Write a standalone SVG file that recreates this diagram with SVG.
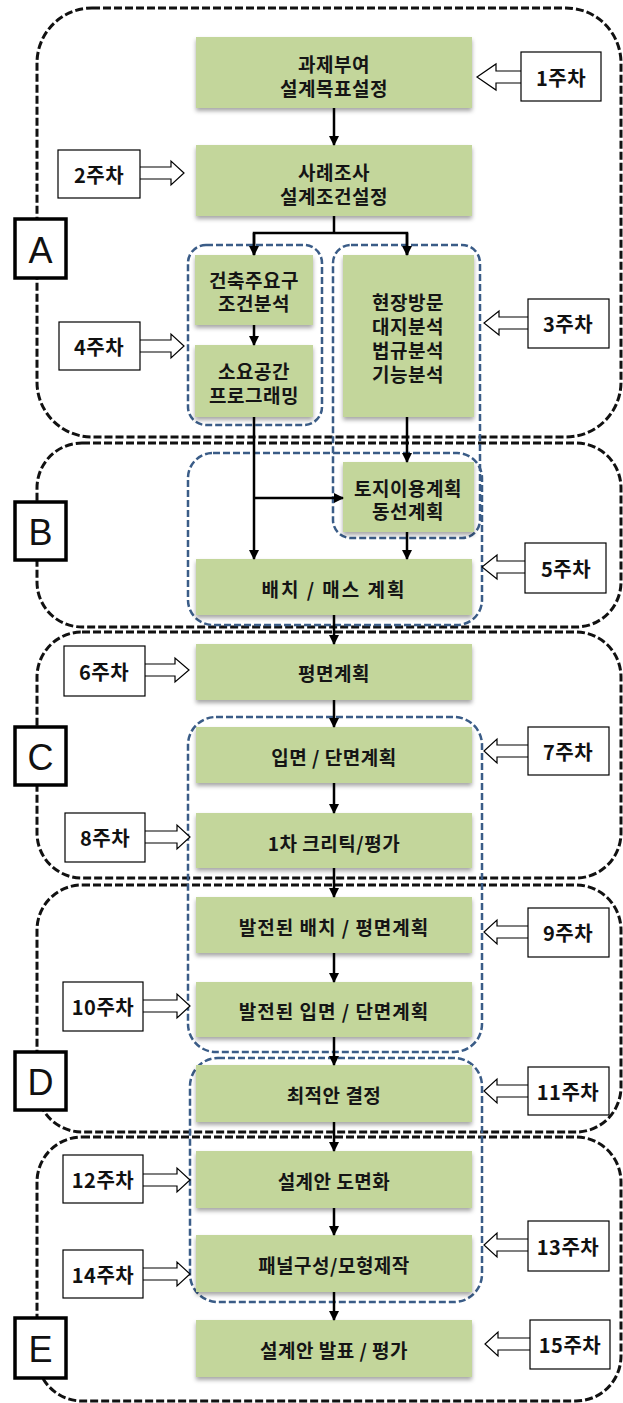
<svg xmlns="http://www.w3.org/2000/svg" width="623" height="1403" viewBox="0 0 623 1403">
<style>
.sec{fill:none;stroke:#111;stroke-width:3;stroke-dasharray:8 3}
.grp{fill:none;stroke:#3a5c87;stroke-width:2.5;stroke-dasharray:7 3}
.lbl{fill:#fff;stroke:#000;stroke-width:3.5}
.lt{font-family:"Liberation Sans",Arial,sans-serif;font-size:36px;fill:#111;text-anchor:middle;dominant-baseline:central}
.box{fill:#c3d69b;filter:url(#sh)}
.bt{font-family:"Noto Sans CJK KR","Noto Sans",sans-serif;font-weight:bold;font-size:19px;fill:#151515;text-anchor:middle;dominant-baseline:central;letter-spacing:0.5px}
.wk{fill:#fff;stroke:#000;stroke-width:1.2}
.wt{font-family:"Noto Sans CJK KR","Noto Sans",sans-serif;font-weight:bold;font-size:20px;fill:#111;text-anchor:middle;dominant-baseline:central;letter-spacing:0.5px}
.ba{fill:#fff;stroke:#000;stroke-width:1.2}
.cn{fill:none;stroke:#000;stroke-width:2.5}
</style>
<defs>
<filter id="sh" x="-5%" y="-10%" width="110%" height="140%"><feDropShadow dx="0" dy="3" stdDeviation="2" flood-color="#000" flood-opacity="0.35"/></filter>
<marker id="ah" markerWidth="10" markerHeight="10" refX="9" refY="5" orient="auto" markerUnits="userSpaceOnUse"><path d="M0,0 L10,5 L0,10 Z" fill="#000"/></marker>
</defs>

<g id="sections">
<rect class="sec" x="37" y="8" width="584" height="429" rx="55"/>
<rect class="sec" x="37" y="443" width="584" height="184" rx="45"/>
<rect class="sec" x="37" y="632" width="584" height="246" rx="45"/>
<rect class="sec" x="37" y="885" width="584" height="247" rx="45"/>
<rect class="sec" x="37" y="1137" width="584" height="264" rx="45"/>
</g>

<g id="groups">
<rect class="grp" x="188" y="245" width="134" height="180" rx="18"/>
<rect class="grp" x="333" y="245" width="147" height="293" rx="18"/>
<rect class="grp" x="188" y="453" width="294" height="172" rx="25"/>
<rect class="grp" x="188" y="717" width="294" height="335" rx="28"/>
<rect class="grp" x="190" y="1058" width="292" height="244" rx="28"/>
</g>

<g id="label-A"><rect class="lbl" x="15" y="219" width="51" height="59"/><text class="lt" x="40.5" y="250">A</text></g>
<g id="label-B"><rect class="lbl" x="15" y="502" width="51" height="58"/><text class="lt" x="40.5" y="532">B</text></g>
<g id="label-C"><rect class="lbl" x="15" y="727" width="51" height="58"/><text class="lt" x="40.5" y="757">C</text></g>
<g id="label-D"><rect class="lbl" x="15" y="1052" width="51" height="58"/><text class="lt" x="40.5" y="1082">D</text></g>
<g id="label-E"><rect class="lbl" x="15" y="1318" width="51" height="60"/><text class="lt" x="40.5" y="1349">E</text></g>

<g id="n1"><rect class="box" x="196" y="37" width="276" height="71"/><text class="bt"><tspan x="334" y="63">과제부여</tspan><tspan x="334" y="87">설계목표설정</tspan></text></g>
<g id="n2"><rect class="box" x="196" y="145" width="276" height="71"/><text class="bt"><tspan x="334" y="171">사례조사</tspan><tspan x="334" y="195">설계조건설정</tspan></text></g>
<g id="n3"><rect class="box" x="195" y="255" width="118" height="70"/><text class="bt"><tspan x="254" y="279">건축주요구</tspan><tspan x="254" y="302">조건분석</tspan></text></g>
<g id="n4"><rect class="box" x="195" y="345" width="118" height="72"/><text class="bt"><tspan x="254" y="370">소요공간</tspan><tspan x="254" y="394">프로그래밍</tspan></text></g>
<g id="n5"><rect class="box" x="343" y="255" width="131" height="162"/><text class="bt"><tspan x="408" y="301">현장방문</tspan><tspan x="408" y="325">대지분석</tspan><tspan x="408" y="349">법규분석</tspan><tspan x="408" y="373">기능분석</tspan></text></g>
<g id="n6"><rect class="box" x="343" y="462" width="131" height="70"/><text class="bt"><tspan x="408" y="487">토지이용계획</tspan><tspan x="408" y="510">동선계획</tspan></text></g>
<g id="n7"><rect class="box" x="196" y="559" width="276" height="56"/><text class="bt" x="334" y="588" style="letter-spacing:2px">배치 / 매스 계획</text></g>
<g id="n8"><rect class="box" x="196" y="644" width="276" height="56"/><text class="bt" x="334" y="672">평면계획</text></g>
<g id="n9"><rect class="box" x="196" y="727" width="276" height="56"/><text class="bt" x="334" y="756">입면 / 단면계획</text></g>
<g id="n10"><rect class="box" x="196" y="813" width="276" height="55"/><text class="bt" x="334" y="842">1차 크리틱/평가</text></g>
<g id="n11"><rect class="box" x="196" y="897" width="276" height="56"/><text class="bt" x="334" y="926" style="letter-spacing:1px">발전된 배치 / 평면계획</text></g>
<g id="n12"><rect class="box" x="196" y="982" width="276" height="55"/><text class="bt" x="334" y="1010" style="letter-spacing:1px">발전된 입면 / 단면계획</text></g>
<g id="n13"><rect class="box" x="196" y="1065" width="276" height="57"/><text class="bt" x="334" y="1094">최적안 결정</text></g>
<g id="n14"><rect class="box" x="196" y="1151" width="276" height="57"/><text class="bt" x="334" y="1180">설계안 도면화</text></g>
<g id="n15"><rect class="box" x="196" y="1235" width="276" height="57"/><text class="bt" x="334" y="1264">패널구성/모형제작</text></g>
<g id="n16"><rect class="box" x="196" y="1320" width="276" height="57"/><text class="bt" x="334" y="1349">설계안 발표 / 평가</text></g>

<g id="w1"><path class="ba" d="M522,71 L496,71 L496,64 L477,77 L496,90 L496,83 L522,83 Z"/><rect class="wk" x="521" y="52" width="80" height="49"/><text class="wt" x="561" y="77">1주차</text></g>
<g id="w2"><path class="ba" d="M139,167 L171,167 L171,161 L184,173 L171,185 L171,179 L139,179 Z"/><rect class="wk" x="58" y="150" width="82" height="48"/><text class="wt" x="99" y="174">2주차</text></g>
<g id="w3"><path class="ba" d="M529,317 L499,317 L499,311 L484,323 L499,335 L499,329 L529,329 Z"/><rect class="wk" x="528" y="299" width="81" height="49"/><text class="wt" x="568" y="323">3주차</text></g>
<g id="w4"><path class="ba" d="M139,340 L171,340 L171,334 L184,346 L171,358 L171,352 L139,352 Z"/><rect class="wk" x="59" y="322" width="81" height="48"/><text class="wt" x="99" y="346">4주차</text></g>
<g id="w5"><path class="ba" d="M526,561 L497,561 L497,555 L482,567 L497,579 L497,573 L526,573 Z"/><rect class="wk" x="525" y="543" width="81" height="50"/><text class="wt" x="566" y="568">5주차</text></g>
<g id="w6"><path class="ba" d="M144,664 L175,664 L175,658 L189,670 L175,682 L175,676 L144,676 Z"/><rect class="wk" x="64" y="646" width="81" height="50"/><text class="wt" x="104" y="671">6주차</text></g>
<g id="w7"><path class="ba" d="M529,745 L497,745 L497,739 L484,751 L497,763 L497,757 L529,757 Z"/><rect class="wk" x="528" y="727" width="81" height="48"/><text class="wt" x="568" y="751">7주차</text></g>
<g id="w8"><path class="ba" d="M144,831 L177,831 L177,825 L190,837 L177,849 L177,843 L144,843 Z"/><rect class="wk" x="65" y="813" width="80" height="49"/><text class="wt" x="105" y="837">8주차</text></g>
<g id="w9"><path class="ba" d="M529,926 L497,926 L497,920 L484,932 L497,944 L497,938 L529,938 Z"/><rect class="wk" x="528" y="908" width="81" height="49"/><text class="wt" x="568" y="932">9주차</text></g>
<g id="w10"><path class="ba" d="M142,1000 L177,1000 L177,994 L190,1006 L177,1018 L177,1012 L142,1012 Z"/><rect class="wk" x="63" y="982" width="80" height="49"/><text class="wt" x="103" y="1006">10주차</text></g>
<g id="w11"><path class="ba" d="M529,1085 L497,1085 L497,1079 L484,1091 L497,1103 L497,1097 L529,1097 Z"/><rect class="wk" x="528" y="1067" width="81" height="48"/><text class="wt" x="568" y="1091">11주차</text></g>
<g id="w12"><path class="ba" d="M142,1174 L177,1174 L177,1168 L190,1180 L177,1192 L177,1186 L142,1186 Z"/><rect class="wk" x="63" y="1155" width="80" height="48"/><text class="wt" x="103" y="1179">12주차</text></g>
<g id="w13"><path class="ba" d="M529,1239 L497,1239 L497,1233 L484,1245 L497,1257 L497,1251 L529,1251 Z"/><rect class="wk" x="528" y="1221" width="81" height="50"/><text class="wt" x="568" y="1246">13주차</text></g>
<g id="w14"><path class="ba" d="M142,1268 L177,1268 L177,1262 L190,1274 L177,1286 L177,1280 L142,1280 Z"/><rect class="wk" x="63" y="1250" width="80" height="48"/><text class="wt" x="103" y="1274">14주차</text></g>
<g id="w15"><path class="ba" d="M531,1338 L498,1338 L498,1332 L485,1344 L498,1356 L498,1350 L531,1350 Z"/><rect class="wk" x="530" y="1320" width="80" height="49"/><text class="wt" x="570" y="1344">15주차</text></g>

<g id="connectors">
<line class="cn" x1="334" y1="108" x2="334" y2="145" marker-end="url(#ah)"/>
<polyline class="cn" points="334,216 334,233"/>
<polyline class="cn" points="254,255 254,233 407,233 407,255"/>
<line class="cn" x1="254" y1="233" x2="254" y2="255" marker-end="url(#ah)"/>
<line class="cn" x1="407" y1="233" x2="407" y2="255" marker-end="url(#ah)"/>
<line class="cn" x1="254" y1="325" x2="254" y2="345" marker-end="url(#ah)"/>
<line class="cn" x1="254" y1="417" x2="254" y2="559" marker-end="url(#ah)"/>
<line class="cn" x1="254" y1="498" x2="343" y2="498" marker-end="url(#ah)"/>
<line class="cn" x1="407" y1="417" x2="407" y2="462" marker-end="url(#ah)"/>
<line class="cn" x1="407" y1="532" x2="407" y2="559" marker-end="url(#ah)"/>
<line class="cn" x1="334" y1="615" x2="334" y2="644" marker-end="url(#ah)"/>
<line class="cn" x1="334" y1="700" x2="334" y2="727" marker-end="url(#ah)"/>
<line class="cn" x1="334" y1="783" x2="334" y2="813" marker-end="url(#ah)"/>
<line class="cn" x1="334" y1="868" x2="334" y2="897" marker-end="url(#ah)"/>
<line class="cn" x1="334" y1="953" x2="334" y2="982" marker-end="url(#ah)"/>
<line class="cn" x1="334" y1="1037" x2="334" y2="1065" marker-end="url(#ah)"/>
<line class="cn" x1="334" y1="1122" x2="334" y2="1151" marker-end="url(#ah)"/>
<line class="cn" x1="334" y1="1208" x2="334" y2="1235" marker-end="url(#ah)"/>
<line class="cn" x1="334" y1="1292" x2="334" y2="1320" marker-end="url(#ah)"/>
</g>
</svg>
